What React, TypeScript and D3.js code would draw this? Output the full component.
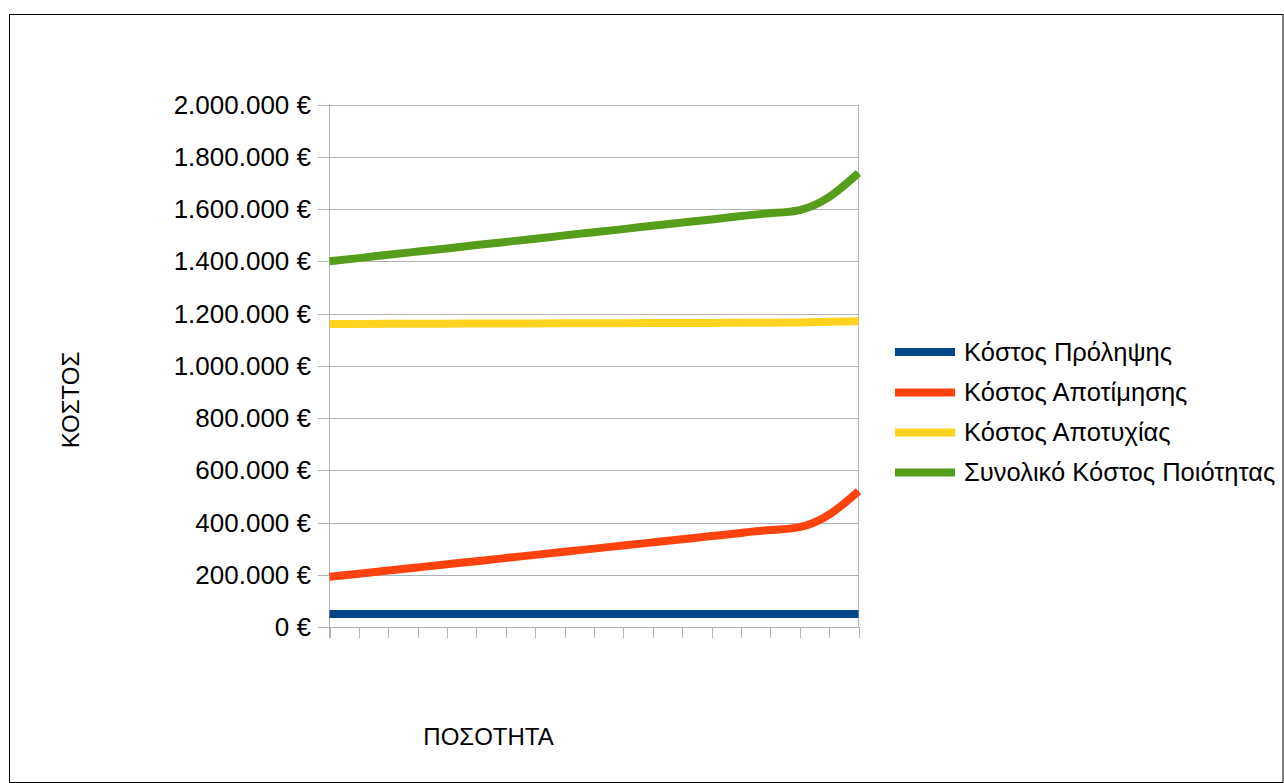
import React from "react";
import * as d3 from "d3";

// quantity steps (19 categories, no labels shown on the axis)
const quantities = d3.range(19);

const seriesNames = [
  "Κόστος Πρόληψης",
  "Κόστος Αποτίμησης",
  "Κόστος Αποτυχίας",
  "Συνολικό Κόστος Ποιότητας",
];

// values in euro
const prevention = [
  50000, 50000, 50000, 50000, 50000, 50000, 50000, 50000, 50000, 50000,
  50000, 50000, 50000, 50000, 50000, 50000, 50000, 50000, 50000,
];
const appraisal = [
  192000, 204000, 216000, 228000, 240000, 252000, 264000, 276000, 288000, 300000,
  312000, 324000, 336000, 348000, 360000, 371000, 382000, 430000, 520000,
];
const failure = [
  1160000, 1160000, 1161000, 1161000, 1161000, 1162000, 1162000, 1162000, 1163000, 1163000,
  1163000, 1164000, 1164000, 1164000, 1165000, 1165000, 1166000, 1168000, 1170000,
];
const total = [
  1400000, 1412000, 1425000, 1437000, 1449000, 1462000, 1474000, 1486000, 1499000, 1511000,
  1523000, 1536000, 1548000, 1560000, 1573000, 1584000, 1596000, 1646000, 1738000,
];

const yTicks = [0, 200000, 400000, 600000, 800000, 1000000, 1200000, 1400000, 1600000, 1800000, 2000000];

const colors = ["#004586", "#ff420e", "#ffd320", "#579d1c"];

const W = 1284;
const H = 783;
const FONT = "'Liberation Sans', Arial, sans-serif";

const fmt = (v: number) =>
  d3.format(",")(v).replace(/,/g, ".") + " €";

export default function App() {
  const x = d3.scaleLinear().domain([0, quantities.length - 1]).range([329.5, 858.5]);
  const y = d3.scaleLinear().domain([0, 2000000]).range([627, 104.5]);

  const line = d3
    .line<number>()
    .x((_, i) => x(quantities[i]))
    .y((d) => y(d))
    .curve(d3.curveNatural);

  const series = [prevention, appraisal, failure, total];
  const legendY = [352, 392.5, 432.5, 472.5];

  return (
    <svg
      width={W}
      height={H}
      style={{ position: "absolute", left: 0, top: 0, background: "#fff" }}
      fontFamily={FONT}
    >
      <rect x={9.5} y={14.5} width={W - 10.5} height={H - 15} fill="#fff" stroke="#000" strokeWidth={1} />

      {/* horizontal grid */}
      {yTicks.map((t) => (
        <line key={t} x1={329.5} x2={858.5} y1={Math.round(y(t)) + 0.5} y2={Math.round(y(t)) + 0.5} stroke="#b3b3b3" />
      ))}
      <line x1={858.5} x2={858.5} y1={y(2000000)} y2={y(0)} stroke="#b3b3b3" />

      {/* y axis */}
      <line x1={329.5} x2={329.5} y1={y(2000000)} y2={y(0) + 11} stroke="#b3b3b3" />
      {yTicks.map((t) => (
        <g key={"yt" + t}>
          <line x1={318} x2={329.5} y1={Math.round(y(t)) + 0.5} y2={Math.round(y(t)) + 0.5} stroke="#b3b3b3" />
          <text x={311} y={y(t)} dy="0.35em" textAnchor="end" fontSize={26} fill="#000">
            {fmt(t)}
          </text>
        </g>
      ))}

      {/* x axis */}
      <line x1={318} x2={858.5} y1={Math.round(y(0)) + 0.5} y2={Math.round(y(0)) + 0.5} stroke="#b3b3b3" />
      {quantities.map((q) => (
        <line
          key={"xt" + q}
          x1={Math.round(x(q)) + 0.5}
          x2={Math.round(x(q)) + 0.5}
          y1={y(0)}
          y2={y(0) + 11}
          stroke="#b3b3b3"
        />
      ))}

      {/* series */}
      {series.map((s, i) => (
        <path key={i} d={line(s) || ""} fill="none" stroke={colors[i]} strokeWidth={8} />
      ))}

      {/* axis titles */}
      <text x={488.5} y={745} textAnchor="middle" fontSize={24} fill="#000">
        ΠΟΣΟΤΗΤΑ
      </text>
      <text
        transform={`translate(79,400) rotate(-90)`}
        textAnchor="middle"
        fontSize={24}
        fill="#000"
      >
        ΚΟΣΤΟΣ
      </text>

      {/* legend */}
      {seriesNames.map((n, i) => (
        <g key={n}>
          <line x1={895} x2={955} y1={legendY[i]} y2={legendY[i]} stroke={colors[i]} strokeWidth={8} />
          <text x={964} y={legendY[i]} dy="0.35em" fontSize={25.5} fill="#000">
            {n}
          </text>
        </g>
      ))}
    </svg>
  );
}
